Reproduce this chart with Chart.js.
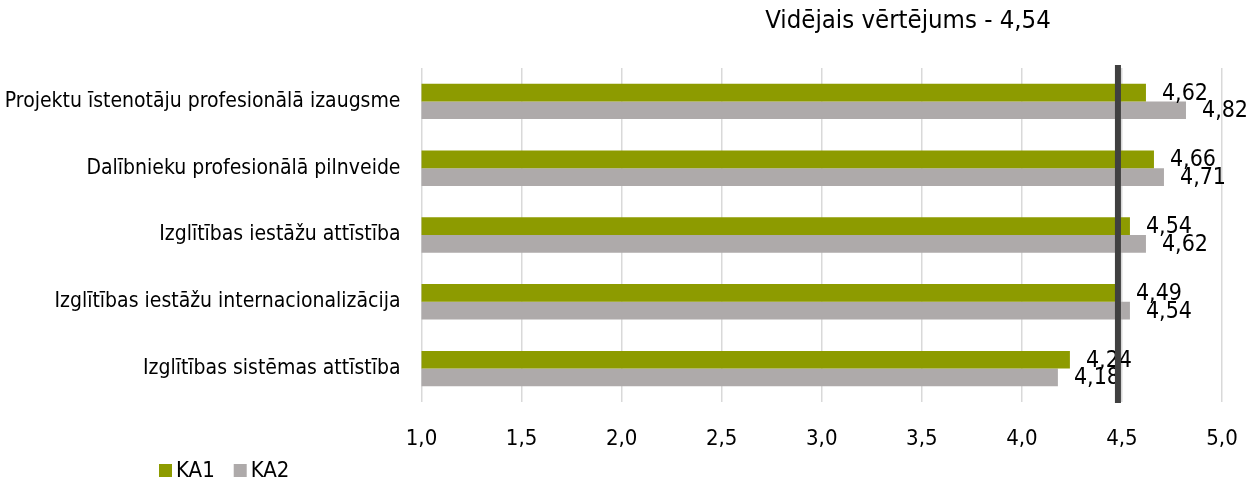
<!DOCTYPE html>
<html>
<head>
<meta charset="utf-8">
<script src="https://cdn.jsdelivr.net/npm/chart.js@4.4.1/dist/chart.umd.min.js"></script>
<style>
  html, body { margin: 0; padding: 0; background: #ffffff; }
  #wrap { position: relative; width: 1248px; height: 479px; }
</style>
</head>
<body>
<div id="wrap"><canvas id="c" width="1248" height="479"></canvas></div>
<script>
// ---- data ----
const categories = [
  "Projektu īstenotāju profesionālā izaugsme",
  "Dalībnieku profesionālā pilnveide",
  "Izglītības iestāžu attīstība",
  "Izglītības iestāžu internacionalizācija",
  "Izglītības sistēmas attīstība"
];
const ka1Values = [4.62, 4.66, 4.54, 4.49, 4.24];
const ka2Values = [4.82, 4.71, 4.62, 4.54, 4.18];
const seriesNames = ["KA1", "KA2"];
const xTickMin = 1.0;
const xTickMax = 5.0;
const xTickStep = 0.5;
const averageTitle = "Vidējais vērtējums - 4,54";
const averageLineAt = 4.48;

// ---- styles ----
const FONT = "'DejaVu Sans Condensed', 'DejaVu Sans', sans-serif";
const GREEN = "#8D9B00";
const GREY = "#AEAAAA";
const fmt = v => Number(v).toFixed(2).replace('.', ',');

const extrasPlugin = {
  id: 'extras',
  afterDatasetsDraw(chart) {
    const ctx = chart.ctx;
    const xs = chart.scales.x;
    const area = chart.chartArea;
    ctx.save();
    // data labels
    ctx.font = "23px " + FONT;
    ctx.fillStyle = "#000000";
    ctx.textAlign = "left";
    ctx.textBaseline = "middle";
    chart.data.datasets.forEach((ds, di) => {
      const meta = chart.getDatasetMeta(di);
      meta.data.forEach((el, i) => {
        ctx.fillText(fmt(ds.data[i]), el.x + 16, el.y + 1);
      });
    });
    // average line
    const ax = xs.getPixelForValue(averageLineAt);
    ctx.strokeStyle = "#404040";
    ctx.lineWidth = 6;
    ctx.beginPath();
    ctx.moveTo(ax, area.top - 3);
    ctx.lineTo(ax, area.bottom + 1);
    ctx.stroke();
    // title
    ctx.font = "25.5px " + FONT;
    ctx.textAlign = "center";
    ctx.textBaseline = "alphabetic";
    ctx.fillText(averageTitle, 908, 28);
    // legend
    ctx.font = "22px " + FONT;
    ctx.textAlign = "left";
    let lx = 159;
    chart.data.datasets.forEach((ds) => {
      ctx.fillStyle = ds.backgroundColor;
      ctx.fillRect(lx, 464, 13, 13);
      ctx.fillStyle = "#000000";
      ctx.fillText(ds.label, lx + 17, 477);
      lx += 17 + ctx.measureText(ds.label).width + 19;
    });
    ctx.restore();
  }
};

new Chart(document.getElementById('c'), {
  type: 'bar',
  data: {
    labels: categories,
    datasets: [
      { label: seriesNames[0], data: ka1Values, backgroundColor: GREEN },
      { label: seriesNames[1], data: ka2Values, backgroundColor: GREY }
    ]
  },
  options: {
    indexAxis: 'y',
    responsive: false,
    animation: false,
    devicePixelRatio: 1,
    layout: { padding: { left: 0, right: 26, top: 68, bottom: 0 } },
    datasets: { bar: { categoryPercentage: 0.53, barPercentage: 1.0 } },
    plugins: {
      legend: { display: false },
      title: { display: false },
      tooltip: { enabled: false }
    },
    scales: {
      x: {
        type: 'linear',
        min: xTickMin,
        max: xTickMax,
        afterFit(scale) { scale.height = 77; scale.paddingLeft = 0; scale.paddingRight = 0; },
        ticks: {
          stepSize: xTickStep,
          padding: 24,
          color: "#000000",
          font: { family: FONT, size: 22 },
          callback: v => Number(v).toFixed(1).replace('.', ',')
        },
        grid: { color: "#d9d9d9", lineWidth: 1.5, drawTicks: false },
        border: { display: false }
      },
      y: {
        afterFit(scale) { scale.width = 421.5; scale.paddingTop = 0; scale.paddingBottom = 0; },
        ticks: {
          padding: 21,
          color: "#000000",
          font: { family: FONT, size: 21 }
        },
        grid: { display: false, drawTicks: false },
        border: { display: false }
      }
    }
  },
  plugins: [extrasPlugin]
});
</script>
</body>
</html>
